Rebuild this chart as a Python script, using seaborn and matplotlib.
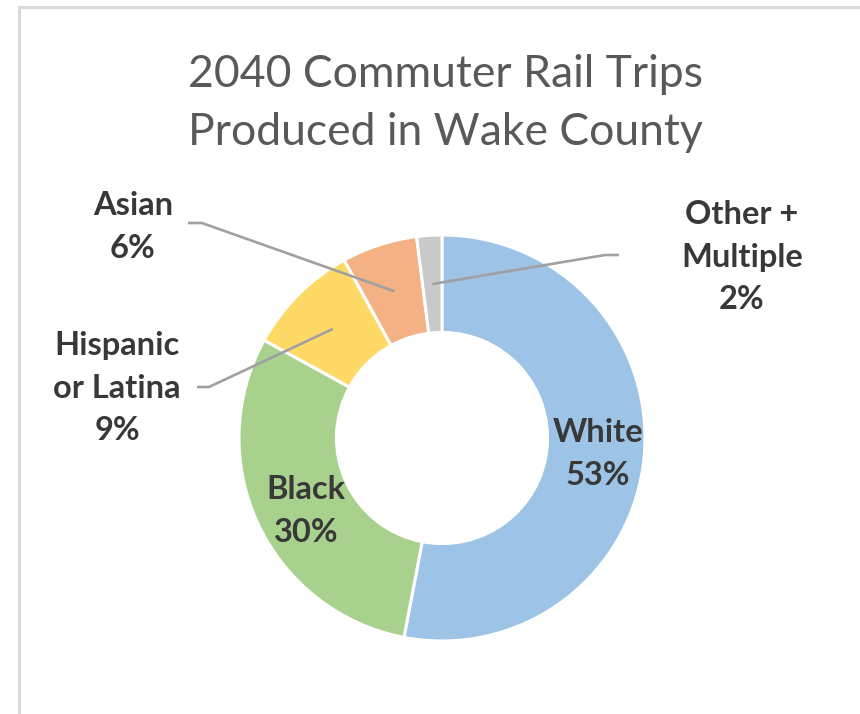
import numpy as np
import matplotlib
matplotlib.use("Agg")
import matplotlib.pyplot as plt
import seaborn as sns
from matplotlib.lines import Line2D

# Share of 2040 commuter rail trips produced in Wake County, by group
groups = ["White", "Black", "Hispanic\nor Latina", "Asian", "Other +\nMultiple"]
shares = [53, 30, 9, 6, 2]
colors = ["#9DC3E6", "#A9D18E", "#FFD966", "#F4B183", "#C9C9C9"]
title_lines = ["2040 Commuter Rail Trips", "Produced in Wake County"]

sns.set_theme(style="white")
plt.rcParams["font.family"] = ["Lato", "DejaVu Sans"]

W, H = 860, 714          # canvas in pixels
CX, CY, R = 442, 438, 203  # donut centre and outer radius (pixels)
RING = 0.48               # ring width as a fraction of the radius
TEXT = "#383838"
LEADER = "#A0A0A0"
LABEL_SIZE = 23.5
LINE_GAP = 1.55


def px(x, y):
    """Pixel position (from top-left) -> data coordinates of the donut axes."""
    return (x - CX) / R, (CY - y) / R


fig = plt.figure(figsize=(W / 100, H / 100), dpi=100)
fig.patch.set_facecolor("white")
ax = fig.add_axes([0, 0, 1, 1])

wedges, _ = ax.pie(
    shares,
    colors=colors,
    startangle=90,
    counterclock=False,
    radius=1,
    wedgeprops=dict(width=RING, edgecolor="white", linewidth=2.2),
)
ax.set_aspect("auto")
ax.set_xlim(-CX / R, (W - CX) / R)
ax.set_ylim(-(H - CY) / R, CY / R)
ax.axis("off")

r_mid = 1 - RING / 2
mids = [np.deg2rad((w.theta1 + w.theta2) / 2) for w in wedges]


def label(i):
    return f"{groups[i]}\n{shares[i]}%"


def draw_label(i, centre):
    ax.text(*px(*centre), label(i), ha="center", va="center",
            fontsize=LABEL_SIZE, fontweight="bold", color=TEXT,
            linespacing=LINE_GAP)


# labels sitting inside the two large segments
draw_label(0, (598, 454))
draw_label(1, (306, 511))

# callout labels for the small segments: text centre, line start, elbow
callouts = {
    2: ((117, 388), (197, 387), (209, 387)),
    3: ((133, 227), (188, 223), (202, 223)),
    4: ((742, 257), (619, 255), (605, 255)),
}
for i, (tc, start, elbow) in callouts.items():
    draw_label(i, tc)
    x0, y0 = px(*start)
    x1, y1 = px(*elbow)
    x2, y2 = r_mid * np.cos(mids[i]), r_mid * np.sin(mids[i])
    ax.plot([x0, x1, x2], [y0, y1, y2], color=LEADER, lw=1.9,
            solid_capstyle="butt", zorder=3)

# two-line title
for line, base in zip(title_lines, (87, 145)):
    fig.text(445 / W, 1 - base / H, line, ha="center", va="baseline",
             fontsize=32, color="#595959")

# light frame along the top and left edges
frame = dict(color="#D9D9D9", lw=2.2, transform=fig.transFigure)
fig.add_artist(Line2D([18.5 / W, 18.5 / W], [0, 1 - 7 / H], **frame))
fig.add_artist(Line2D([18.5 / W, 1], [1 - 7 / H, 1 - 7 / H], **frame))

fig.savefig("out.png", dpi=100, facecolor="white")
